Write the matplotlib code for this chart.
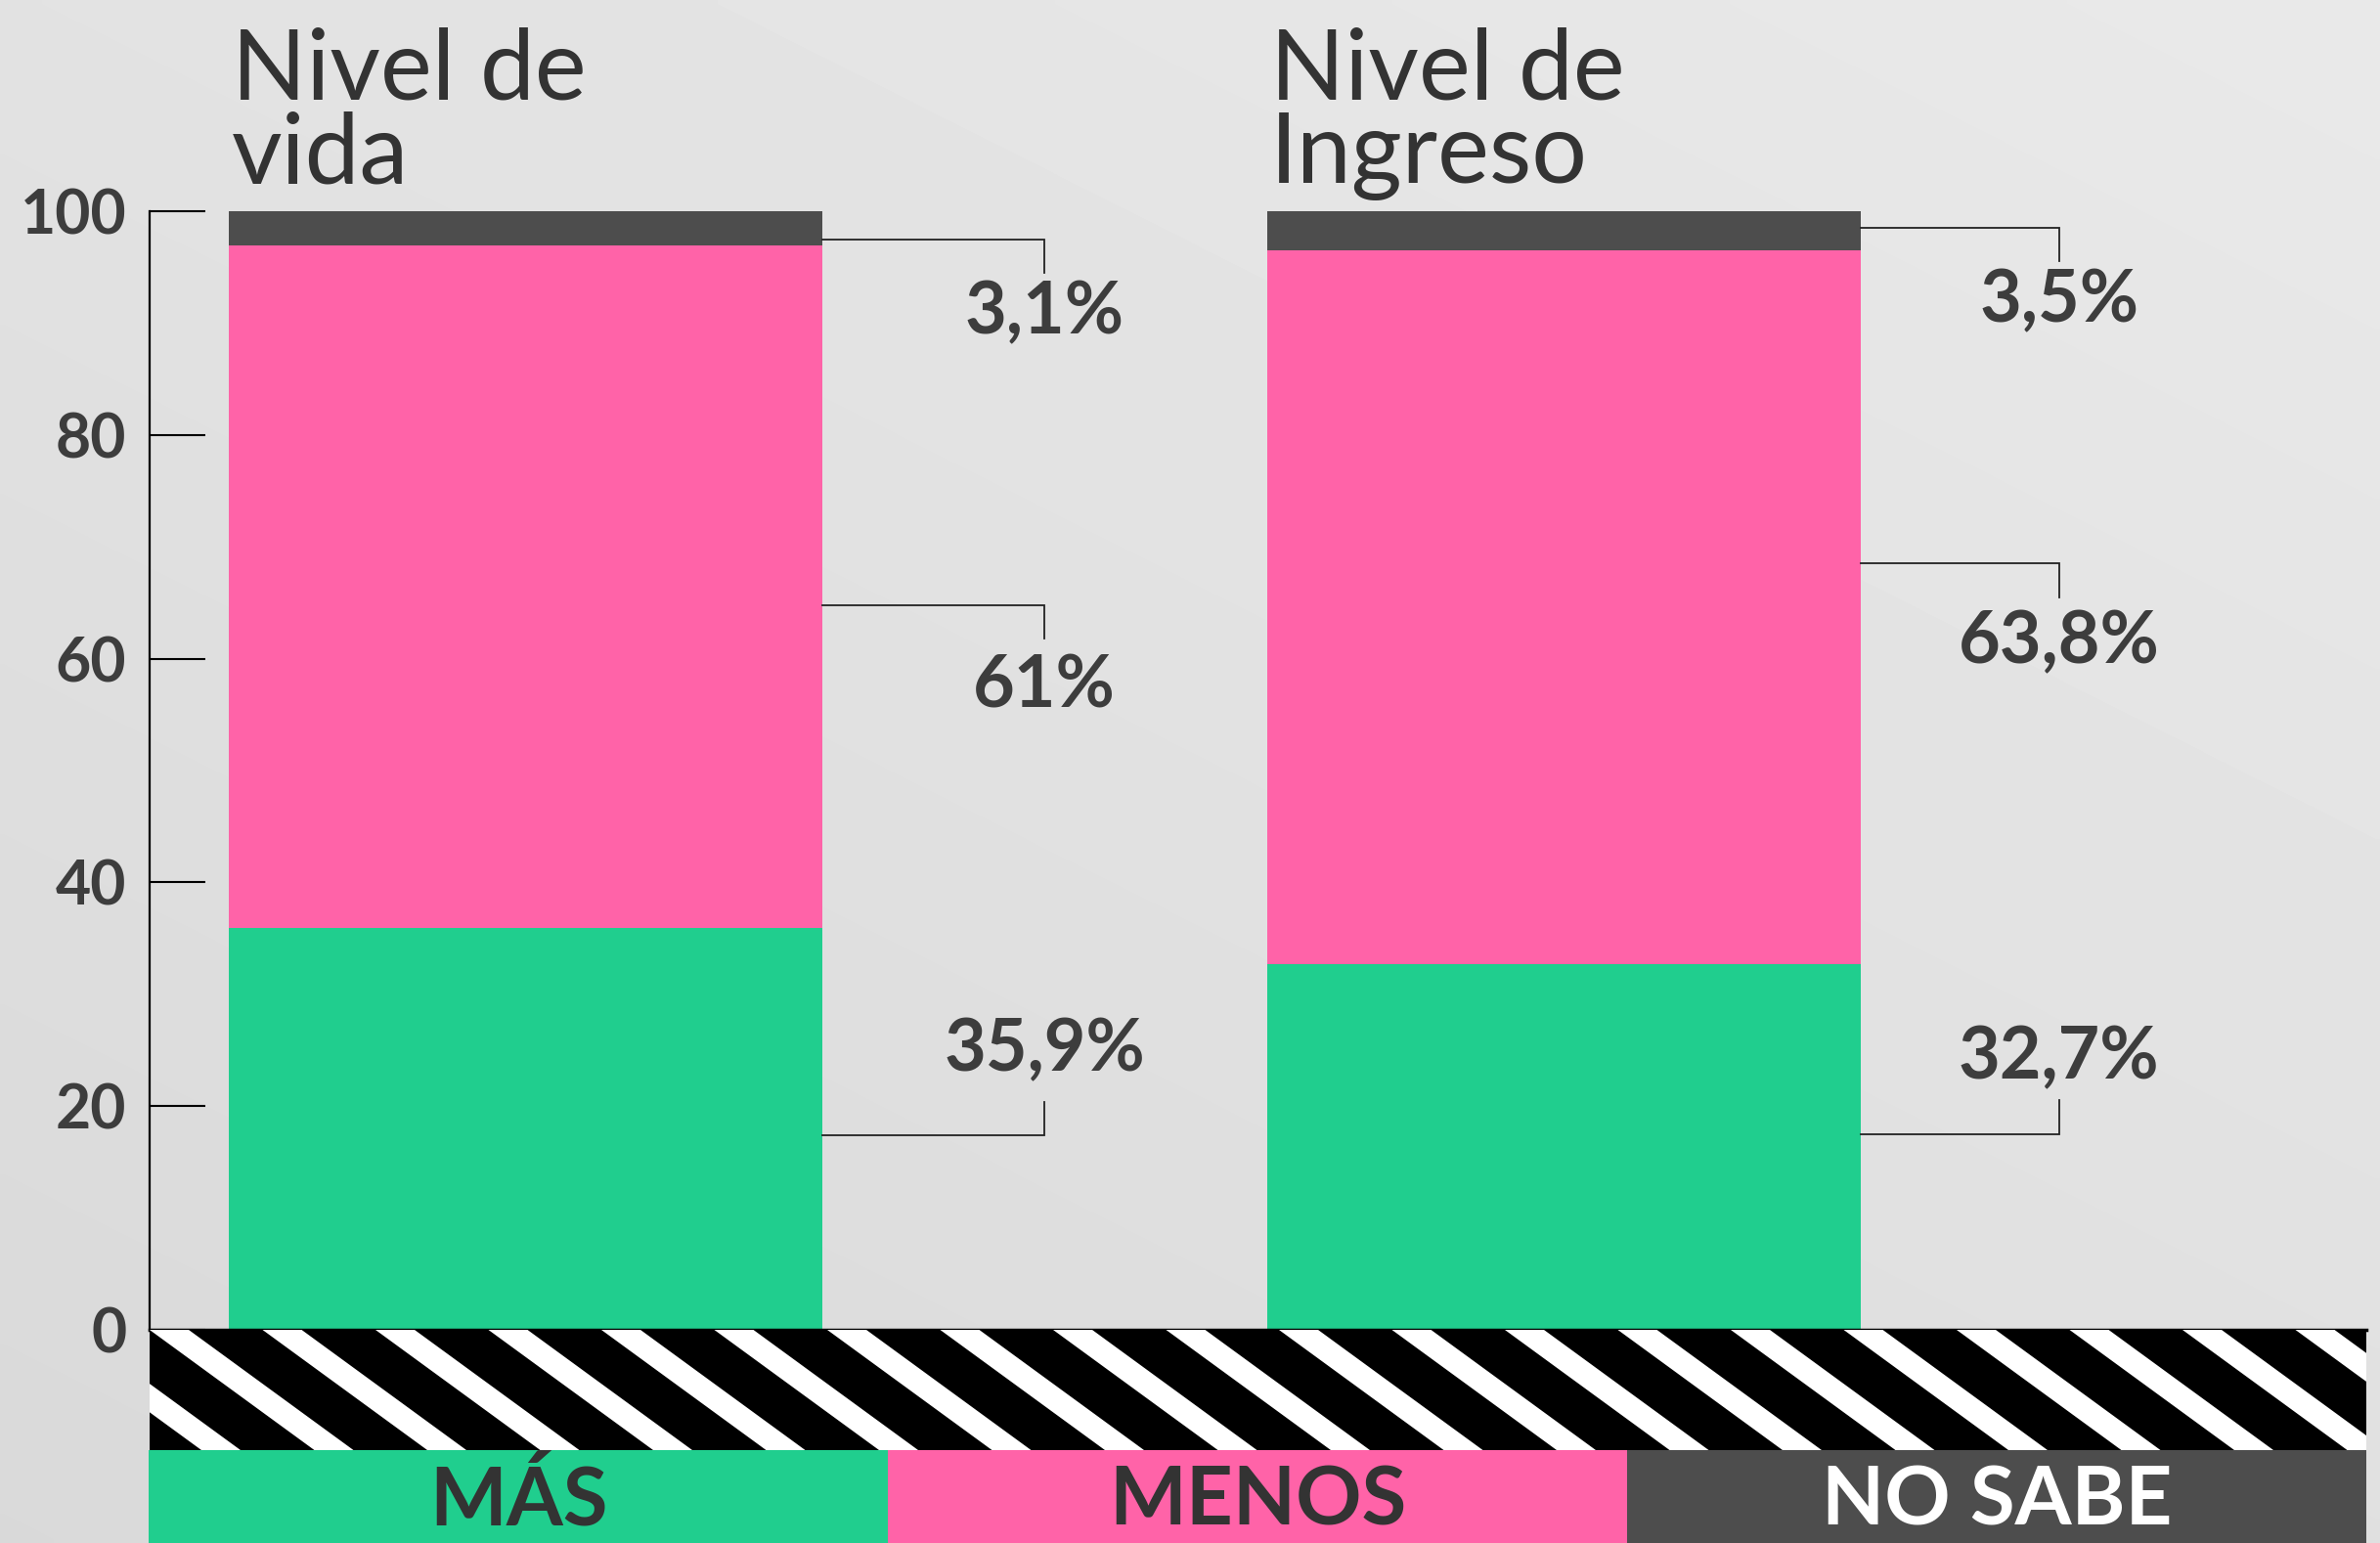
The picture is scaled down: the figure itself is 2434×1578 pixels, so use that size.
import numpy as np
import matplotlib
matplotlib.use("Agg")
import matplotlib.pyplot as plt
from matplotlib.patches import Polygon, Rectangle

# ---------------- data ----------------
categories = ["Nivel de\nvida", "Nivel de\nIngreso"]
mas = [35.9, 32.7]
menos = [61.0, 63.8]
no_sabe = [3.1, 3.5]
series_names = ["MÁS", "MENOS", "NO SABE"]
yticks = [0, 20, 40, 60, 80, 100]

# ---------------- styles / layout ----------------
colors = ["#20CE8E", "#FF63A8", "#4D4D4D"]
legend_text_colors = ["#333333", "#333333", "#FFFFFF"]
text_dark = "#3D3D3D"
FONT = ["Lato", "DejaVu Sans"]

# bracket layout (data units)
bracket_x = [0.50, 1.477]
bracket_y = [[17.4, 64.8, 97.5], [17.5, 68.5, 98.5]]
label_y = [[25.0, 57.5, 90.9], [24.3, 61.5, 92.0]]
leg_len = 3.0

W, H = 2434, 1578
DPI = 100
fig = plt.figure(figsize=(W / DPI, H / DPI), dpi=DPI)


def fx(px):
    return px / W


def fy(py):
    return 1 - py / H


# background gradient
bg = fig.add_axes([0, 0, 1, 1], zorder=-10)
yy, xx = np.mgrid[0:1:200j, 0:1:300j]
val = 226 + 7 * xx - 9 * yy
bg.imshow(val, cmap="gray", vmin=0, vmax=255, extent=[0, 1, 0, 1],
          origin="upper", aspect="auto", interpolation="bilinear")
bg.axis("off")

# main axes
left_px, right_px, top_px, zero_px = 153, 2420, 216, 1360
ax = fig.add_axes([fx(left_px), fy(zero_px), fx(right_px - left_px),
                   (zero_px - top_px) / H])
ax.patch.set_alpha(0)
x = np.arange(len(categories))
bw = 0.572
ax.set_xlim(-0.362, 1.773)
ax.set_ylim(0, 100)

bottoms = np.zeros(len(categories))
segments = [mas, menos, no_sabe]
for vals, c in zip(segments, colors):
    ax.bar(x, vals, bw, bottom=bottoms, color=c, linewidth=0, clip_on=False, zorder=2)
    bottoms = bottoms + np.array(vals)

for s in ["top", "right"]:
    ax.spines[s].set_visible(False)
ax.spines["left"].set_linewidth(1.6)
ax.spines["left"].set_color("black")
ax.spines["bottom"].set_linewidth(2.5)
ax.spines["bottom"].set_color("black")
ax.set_xticks([])
ax.set_yticks(yticks)
ax.set_yticklabels([str(t) for t in yticks])
ax.tick_params(axis="y", direction="in", length=41, width=1.5, color="black",
               pad=17, labelsize=45, labelcolor=text_dark)
for lab in ax.get_yticklabels():
    lab.set_fontfamily(FONT)
    lab.set_fontweight("bold")

# titles
title_base = [(zero_px - 102) / (zero_px - top_px), (zero_px - 187) / (zero_px - top_px)]
for i, cat in enumerate(categories):
    for j, line in enumerate(cat.split("\n")):
        ax.text(x[i] - bw / 2 + 0.003, title_base[j], line, transform=ax.get_xaxis_transform(),
                ha="left", va="baseline", fontsize=72, color="#333333",
                family=FONT, fontweight="normal", clip_on=False)


# bracket annotations
def fmt(v):
    return f"{v:g}".replace(".", ",") + "%"


for i in range(len(categories)):
    xr = x[i] + bw / 2
    xv = bracket_x[i]
    for k, vals in enumerate(segments):
        yb = bracket_y[i][k]
        ye = yb + leg_len if k == 0 else yb - leg_len
        ax.plot([xr, xv, xv], [yb, yb, ye], color="#222222", lw=1.3,
                clip_on=False, zorder=3, solid_joinstyle="miter")
        ax.text(xv, label_y[i][k], fmt(vals[i]), ha="center", va="center",
                fontsize=53, fontweight="bold", color=text_dark, family=FONT)

# striped band
band_top, band_bot = 1360, 1483
bax = fig.add_axes([fx(left_px), fy(band_bot), fx(right_px - left_px),
                    (band_bot - band_top) / H], zorder=1)
bw_px = right_px - left_px
bh_px = band_bot - band_top
bax.set_xlim(0, bw_px)
bax.set_ylim(0, bh_px)
bax.set_facecolor("black")
period, stripe_w = 115.5, 40
shift = bh_px / 0.73
for k in range(-3, int(bw_px / period) + 2):
    x0 = k * period
    bax.add_patch(Polygon([(x0, bh_px), (x0 + stripe_w, bh_px),
                           (x0 + stripe_w + shift, 0), (x0 + shift, 0)],
                          closed=True, facecolor="white", edgecolor="none"))
bax.set_xticks([])
bax.set_yticks([])
for s in bax.spines.values():
    s.set_visible(False)

# legend band
lax = fig.add_axes([fx(152), 0, fx(right_px - 152), (H - band_bot) / H], zorder=1)
lax.set_xlim(0, len(series_names))
lax.set_ylim(0, 1)
for k, (name, c, tc) in enumerate(zip(series_names, colors, legend_text_colors)):
    lax.add_patch(Rectangle((k, 0), 1, 1, facecolor=c, edgecolor="none"))
    lax.text(k + 0.5, 0.19, name, ha="center", va="baseline", fontsize=60,
             fontweight="bold", color=tc, family=FONT)
lax.axis("off")

fig.savefig("out.png", dpi=DPI)
